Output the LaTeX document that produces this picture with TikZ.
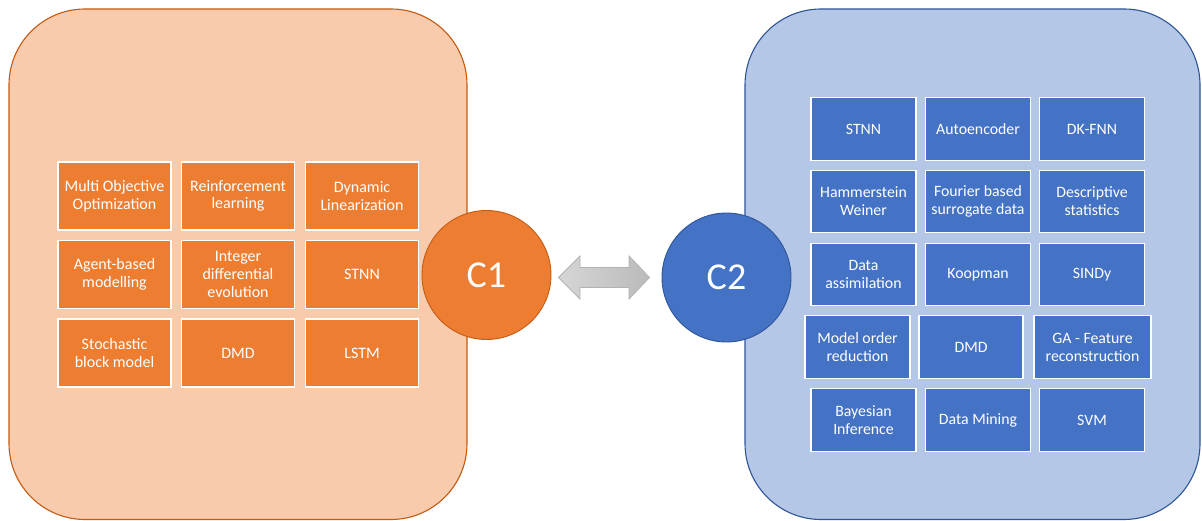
\documentclass[tikz,border=0pt]{standalone}
\usepackage{fontspec}
\setmainfont{Carlito}
\definecolor{orfill}{HTML}{ED7D31}
\definecolor{orlight}{HTML}{F8CBAD}
\definecolor{ordark}{HTML}{C55A11}
\definecolor{blfill}{HTML}{4472C4}
\definecolor{bllight}{HTML}{B4C7E7}
\definecolor{bldark}{HTML}{2F5597}
\tikzset{
  panel/.style={rounded corners=76pt, line width=1.1pt},
  obox/.style={rectangle, draw=white, line width=1.1pt, fill=orfill, text=white,
    minimum width=113pt, minimum height=68pt, align=center, inner sep=1pt,
    font=\fontsize{16}{17.7}\selectfont},
  bbox/.style={rectangle, draw=white, line width=1.1pt, fill=blfill, text=white,
    minimum width=105pt, minimum height=62.5pt, align=center, inner sep=1pt,
    font=\fontsize{15.8}{18}\selectfont},
  circ/.style={circle, minimum size=129pt, inner sep=0pt, line width=0.9pt, text=white,
    font=\fontsize{38}{42}\selectfont},
}
\begin{document}
\begin{tikzpicture}[x=1pt,y=-1pt]
\useasboundingbox (0,0) rectangle (1202,521);
% panels
\draw[panel, fill=orlight, draw=ordark] (9,9) rectangle (467,519.5);
\draw[panel, fill=bllight, draw=bldark] (745,9) rectangle (1200,519.5);
% left grid
\node[obox] (l11) at (114.5,196) {Multi Objective\\Optimization};
\node[obox] (l12) at (238,196) {Reinforcement\\learning};
\node[obox] (l13) at (362,196) {Dynamic\\Linearization};
\node[obox] (l21) at (114.5,274.5) {Agent-based\\modelling};
\node[obox] (l22) at (238,274.5) {Integer\\differential\\evolution};
\node[obox] (l23) at (362,274.5) {STNN};
\node[obox] (l31) at (114.5,353) {Stochastic\\block model};
\node[obox] (l32) at (238,353) {DMD};
\node[obox] (l33) at (362,353) {LSTM};
% right grid
\node[bbox] (r11) at (863.5,129) {STNN};
\node[bbox] (r12) at (978,129) {Autoencoder};
\node[bbox] (r13) at (1092,129) {DK-FNN};
\node[bbox] (r21) at (863.5,201.5) {Hammerstein\\Weiner};
\node[bbox] (r22) at (978,201.5) {Fourier based\\surrogate data};
\node[bbox] (r23) at (1092,201.5) {Descriptive\\statistics};
\node[bbox] (r31) at (863.5,274.5) {Data\\assimilation};
\node[bbox] (r32) at (978,274.5) {Koopman};
\node[bbox] (r33) at (1092,274.5) {SINDy};
\node[bbox] (r41) at (857.5,347) {Model order\\reduction};
\node[bbox, minimum width=104pt] (r42) at (971,347) {DMD};
\node[bbox, minimum width=117pt] (r43) at (1092.5,347) {GA - Feature\\reconstruction};
\node[bbox] (r51) at (863.5,420) {Bayesian\\Inference};
\node[bbox] (r52) at (978,420) {Data Mining};
\node[bbox] (r53) at (1092,420) {SVM};
% circles
\node[circ, fill=orfill, draw=ordark] (c1) at (486.5,275) {C1};
\node[circ, fill=blfill, draw=bldark] (c2) at (726.5,277.5) {C2};
% double arrow
\coordinate (al) at (558.5,277.5);
\coordinate (ar) at (649.5,277.5);
\path[draw=black!30, line width=0.8pt, left color=black!16, right color=black!27]
  (al) -- (580,256) -- (580,267.5) -- (629,267.5) -- (629,256) -- (ar)
  -- (629,299) -- (629,287.5) -- (580,287.5) -- (580,299) -- cycle;
\end{tikzpicture}
\end{document}
